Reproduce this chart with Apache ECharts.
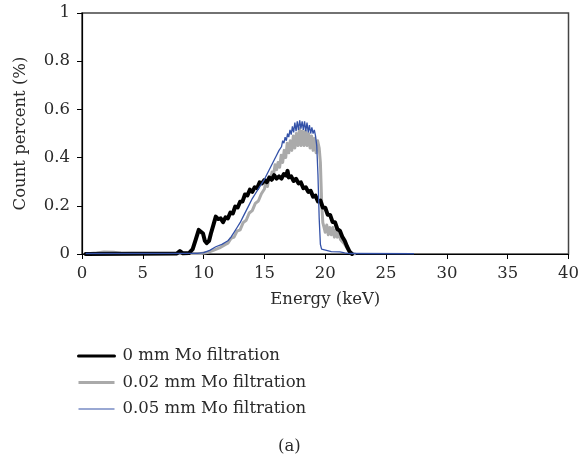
<!DOCTYPE html>
<html>
<head>
<meta charset="utf-8">
<script src="https://cdn.jsdelivr.net/npm/echarts@6/dist/echarts.min.js"></script>
<style>
html,body{margin:0;padding:0;background:#fff;}
#chart{width:582px;height:458px;}
</style>
</head>
<body>
<div id="chart"></div>
<script>
// Series names
var seriesNames = ['0 mm Mo filtration', '0.02 mm Mo filtration', '0.05 mm Mo filtration'];

// [energy keV, count percent]
var zeroMmData = [
  [0.3,0],[7.8,0.002],[8.05,0.012],[8.3,0.003],[8.8,0.004],[9.1,0.02],[9.35,0.06],[9.6,0.1],[9.75,0.108],[9.95,0.085],[10.1,0.055],[10.25,0.045],[10.45,0.055],[10.6,0.085],
  [10.8,0.12],[11.0,0.155],[11.2,0.145],[11.4,0.148],[11.6,0.132],[11.8,0.152],[12.0,0.148],[12.2,0.172],[12.4,0.168],[12.6,0.197],
  [12.8,0.193],[13.0,0.217],[13.2,0.218],[13.4,0.247],[13.6,0.243],[13.8,0.267],[14.0,0.258],[14.2,0.277],[14.4,0.273],[14.6,0.297],
  [14.8,0.293],[15.0,0.307],[15.2,0.298],[15.4,0.317],[15.6,0.308],[15.8,0.327],[16.0,0.313],[16.2,0.322],[16.4,0.313],[16.6,0.332],
  [16.8,0.325],[16.9,0.345],[17.0,0.318],[17.2,0.322],[17.4,0.303],[17.6,0.312],[17.8,0.293],[18.0,0.297],[18.2,0.273],[18.4,0.277],
  [18.6,0.258],[18.8,0.262],[19.0,0.238],[19.2,0.242],[19.4,0.218],[19.6,0.222],[19.8,0.193],[20.0,0.192],[20.2,0.163],[20.4,0.162],
  [20.6,0.133],[20.8,0.132],[21.0,0.103],[21.2,0.097],[21.4,0.072],[21.6,0.055],[21.8,0.03],[22.0,0.01],[22.2,0]
];

var mo002Data = [
  [0.3,0],[1.2,0.004],[1.8,0.008],[2.6,0.007],[3.2,0.003],[9.8,0.002],[10.3,0.006],[10.8,0.015],[11.3,0.025],[11.8,0.04],
  [12.0,0.045],[12.25,0.065],[12.5,0.07],[12.75,0.095],[13.0,0.1],[13.25,0.13],[13.5,0.14],[13.75,0.17],[14.0,0.18],[14.25,0.21],
  [14.5,0.22],[14.75,0.25],[15.0,0.27],[15.125,0.30],[15.25,0.28],[15.375,0.32],[15.5,0.31],[15.625,0.34],[15.75,0.33],[15.875,0.37],
  [16.0,0.35],[16.125,0.38],[16.25,0.36],[16.375,0.41],[16.5,0.38],[16.625,0.43],[16.75,0.40],[16.875,0.46],[17.0,0.42],[17.125,0.47],
  [17.25,0.43],[17.375,0.49],[17.5,0.44],[17.625,0.50],[17.75,0.45],[17.875,0.52],[18.0,0.45],[18.125,0.51],[18.25,0.45],[18.375,0.51],
  [18.5,0.45],[18.625,0.50],[18.75,0.44],[18.875,0.49],[19.0,0.43],[19.125,0.48],[19.25,0.42],[19.375,0.47],[19.5,0.44],[19.6,0.38],
  [19.7,0.22],[19.8,0.13],[19.9,0.11],[20.0,0.09],[20.125,0.12],[20.25,0.08],[20.375,0.11],[20.5,0.08],[20.625,0.11],[20.75,0.07],
  [20.875,0.10],[21.0,0.07],[21.125,0.09],[21.25,0.06],[21.4,0.06],[21.6,0.04],[21.8,0.025],[22.0,0.01],[22.2,0],[22.5,0]
];

var mo005Data = [
  [0.3,0.002],[9.5,0.003],[10.0,0.006],[10.5,0.015],[11.0,0.03],[11.5,0.04],[12.0,0.055],[12.25,0.07],[12.5,0.09],[12.75,0.11],
  [13.0,0.13],[13.25,0.155],[13.5,0.18],[13.75,0.205],[14.0,0.23],[14.25,0.25],[14.5,0.27],[14.75,0.29],[15.0,0.31],[15.25,0.335],
  [15.5,0.36],[15.75,0.385],[16.0,0.41],[16.2,0.43],[16.4,0.445],[16.5,0.47],[16.6,0.46],[16.7,0.485],[16.8,0.47],[16.9,0.5],
  [17.0,0.485],[17.1,0.515],[17.2,0.495],[17.3,0.53],[17.4,0.505],[17.5,0.545],[17.6,0.51],[17.7,0.55],[17.8,0.515],[17.9,0.555],
  [18.0,0.52],[18.1,0.55],[18.2,0.515],[18.3,0.55],[18.4,0.51],[18.5,0.545],[18.6,0.505],[18.7,0.535],[18.8,0.5],[18.9,0.525],
  [19.0,0.5],[19.1,0.515],[19.2,0.49],[19.3,0.45],[19.4,0.33],[19.5,0.15],[19.6,0.04],[19.7,0.02],[19.8,0.012],[20.5,0.01],
  [21.2,0.009],[21.6,0.005],[22.0,0.002],[27.3,0.001]
];

var chart = echarts.init(document.getElementById('chart'));
var FONT = 'DejaVu Serif';
var TXT = '#2a2a2a';
var colors = ['#000000', '#aaaaaa', '#3452a8'];
var widths = [4, 3, 1.3];
var legendWidths = [3, 3, 1.2];
var option = {
  animation: false,
  backgroundColor: '#fff',
  title: {
    text: '(a)', left: 273, top: 433,
    textStyle: {fontFamily: FONT, fontSize: 16.5, fontWeight: 'normal', color: TXT}
  },
  legend: {
    orient: 'vertical', left: 72, top: 341,
    itemWidth: 36, itemHeight: 14, itemGap: 6.5,
    data: seriesNames.map(function (n, i) {
      return {name: n, lineStyle: {width: legendWidths[i], color: colors[i]}};
    }),
    itemStyle: {opacity: 0},
    textStyle: {fontFamily: FONT, fontSize: 16.5, color: TXT, lineHeight: 20, padding: [0, 0, 0, 3]}
  },
  grid: {left: 82, right: 12, top: 13, bottom: 204, show: true, borderColor: '#444', borderWidth: 1.5},
  xAxis: {
    type: 'value', min: 0, max: 40, interval: 5,
    name: 'Energy (keV)', nameLocation: 'middle', nameGap: 37,
    nameTextStyle: {fontFamily: FONT, fontSize: 16.5, color: TXT},
    axisLine: {lineStyle: {color: '#000', width: 1.2}},
    axisTick: {length: 5, lineStyle: {color: '#000'}},
    axisLabel: {fontFamily: FONT, fontSize: 16.5, color: TXT, margin: 11},
    splitLine: {show: false}
  },
  yAxis: {
    type: 'value', min: 0, max: 1, interval: 0.2,
    name: 'Count percent (%)', nameLocation: 'middle', nameGap: 53,
    nameTextStyle: {fontFamily: FONT, fontSize: 16.5, color: TXT},
    axisLine: {show: true, lineStyle: {color: '#000', width: 1.2}},
    axisTick: {show: true, length: 5, lineStyle: {color: '#000'}},
    axisLabel: {fontFamily: FONT, fontSize: 16.5, color: TXT, margin: 12},
    splitLine: {show: false}
  },
  series: [
    {name: seriesNames[1], type: 'line', data: mo002Data, showSymbol: false, symbol: 'none', z: 2,
     lineStyle: {color: colors[1], width: widths[1], join: 'round'}, itemStyle: {color: colors[1]}},
    {name: seriesNames[0], type: 'line', data: zeroMmData, showSymbol: false, symbol: 'none', z: 3,
     lineStyle: {color: colors[0], width: widths[0], join: 'round', cap: 'round'}, itemStyle: {color: colors[0]}},
    {name: seriesNames[2], type: 'line', data: mo005Data, showSymbol: false, symbol: 'none', z: 4,
     lineStyle: {color: colors[2], width: widths[2]}, itemStyle: {color: colors[2]}}
  ]
};
chart.setOption(option);
</script>
</body>
</html>
